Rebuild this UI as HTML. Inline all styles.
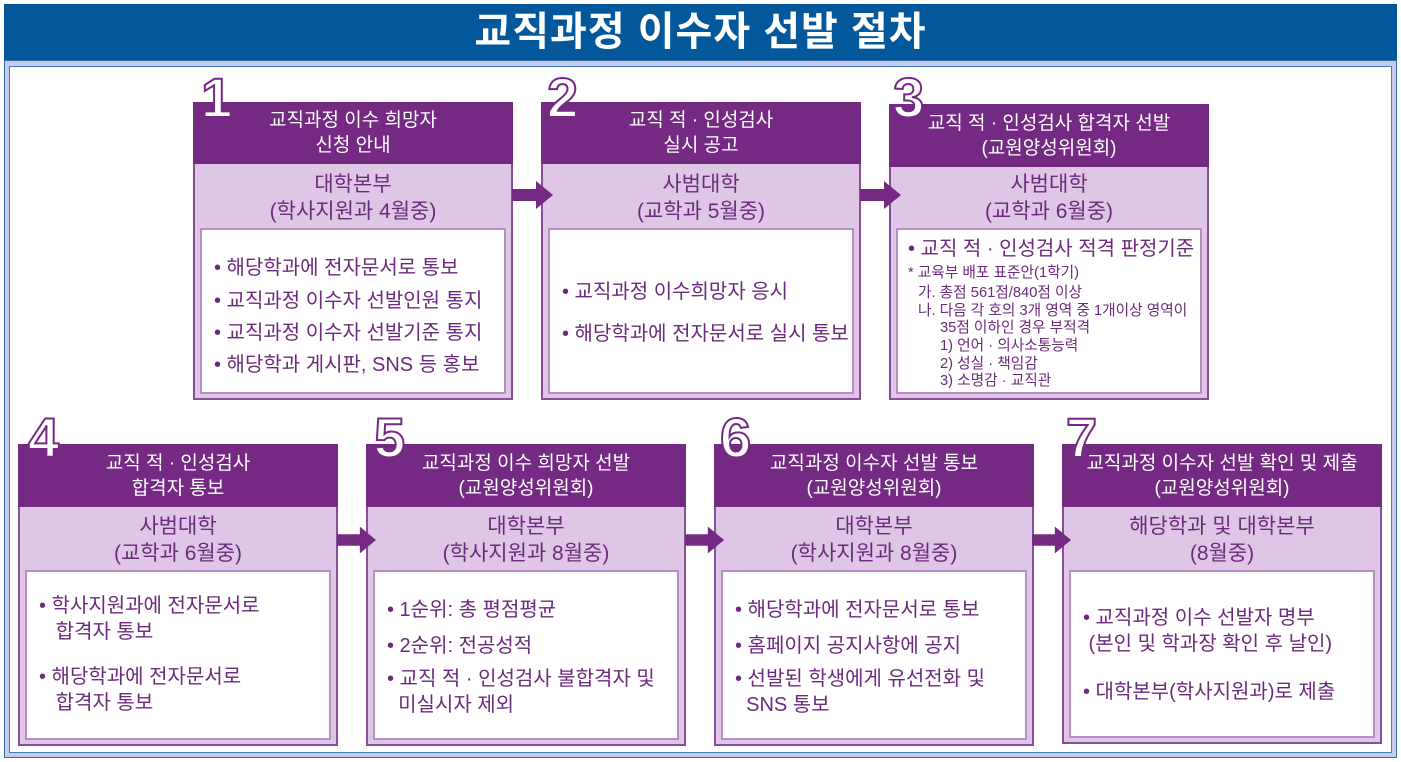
<!DOCTYPE html>
<html><head><meta charset="utf-8"><style>
*{margin:0;padding:0;box-sizing:border-box}
body{width:1401px;height:762px;background:#fff;position:relative;overflow:hidden;font-family:"Liberation Sans","Noto Sans CJK KR",sans-serif;color:#6b2a7c}
.title{position:absolute;left:4px;top:4px;width:1393px;height:57px;background:#03579b;color:#fff;font-size:40px;font-weight:bold;text-align:center;line-height:57px;letter-spacing:1px}
.frame{position:absolute;left:4px;top:60px;width:1393px;height:698px;background:#c9c9e8;border:1px solid #2f6fae}
.inner{position:absolute;left:9px;top:66px;width:1383px;height:687px;background:#fff;border:1px solid #3d7dbd}
.box{position:absolute;width:320px;background:#dfc6e6;border:2px solid #8a4e98}
.hd{position:absolute;left:-2px;top:-2px;right:-2px;background:#742a83;color:#fff;font-size:19px;text-align:center;line-height:25px;display:flex;flex-direction:column;justify-content:center;white-space:nowrap}
.sub{position:absolute;left:0;right:0;text-align:center;font-size:21px;line-height:27px;color:#6b2a7c;white-space:nowrap}
.wb{position:absolute;left:5px;right:5px;bottom:4px;background:#fff;border:2px solid #b690c2}
.wb p{font-size:20px;position:absolute;left:12px;white-space:nowrap}
.num{position:absolute;font-size:56px;font-weight:bold;color:#fff;-webkit-text-stroke:2px #742a83;font-family:"Liberation Sans",sans-serif;line-height:56px}
.arr{position:absolute;width:42px;height:30px}
.sm p{font-size:14.7px;line-height:18px}
</style></head><body>
<div class="title">교직과정 이수자 선발 절차</div>
<div class="frame"></div>
<div class="inner"></div>

<!-- Box 1 -->
<div class="box" style="left:193px;top:102px;height:298px">
 <div class="hd" style="height:62px">교직과정 이수 희망자<br>신청 안내</div>
 <div class="sub" style="top:67px">대학본부<br>(학사지원과 4월중)</div>
 <div class="wb" style="top:124px">
  <p style="top:21px">• 해당학과에 전자문서로 통보</p>
  <p style="top:54px">• 교직과정 이수자 선발인원 통지</p>
  <p style="top:86px">• 교직과정 이수자 선발기준 통지</p>
  <p style="top:118px">• 해당학과 게시판, SNS 등 홍보</p>
 </div>
</div>
<div class="num" style="left:201px;top:70px">1</div>

<!-- Box 2 -->
<div class="box" style="left:541px;top:102px;height:298px">
 <div class="hd" style="height:62px">교직 적 · 인성검사<br>실시 공고</div>
 <div class="sub" style="top:67px">사범대학<br>(교학과 5월중)</div>
 <div class="wb" style="top:124px">
  <p style="top:45px">• 교직과정 이수희망자 응시</p>
  <p style="top:87px">• 해당학과에 전자문서로 실시 통보</p>
 </div>
</div>
<div class="num" style="left:547px;top:70px">2</div>

<!-- Box 3 -->
<div class="box" style="left:889px;top:104px;height:296px">
 <div class="hd" style="height:63px">교직 적 · 인성검사 합격자 선발<br>(교원양성위원회)</div>
 <div class="sub" style="top:65px">사범대학<br>(교학과 6월중)</div>
 <div class="wb sm" style="top:122px">
  <p style="top:6px;font-size:20px;line-height:26px;left:10px">• 교직 적 · 인성검사 적격 판정기준</p>
  <p style="top:34px;left:10px">* 교육부 배포 표준안(1학기)</p>
  <p style="top:54px;left:20px">가. 총점 561점/840점 이상</p>
  <p style="top:72px;left:20px">나. 다음 각 호의 3개 영역 중 1개이상 영역이</p>
  <p style="top:89px;left:42px">35점 이하인 경우 부적격</p>
  <p style="top:107px;left:42px">1) 언어 · 의사소통능력</p>
  <p style="top:125px;left:42px">2) 성실 · 책임감</p>
  <p style="top:142px;left:42px">3) 소명감 · 교직관</p>
 </div>
</div>
<div class="num" style="left:893px;top:70px">3</div>

<!-- Box 4 -->
<div class="box" style="left:18px;top:444px;height:302px">
 <div class="hd" style="height:63px">교직 적 · 인성검사<br>합격자 통보</div>
 <div class="sub" style="top:67px">사범대학<br>(교학과 6월중)</div>
 <div class="wb" style="top:124px">
  <p style="top:21px;line-height:26px">• 학사지원과에 전자문서로<br>&nbsp;&nbsp;&nbsp;합격자 통보</p>
  <p style="top:92px;line-height:26px">• 해당학과에 전자문서로<br>&nbsp;&nbsp;&nbsp;합격자 통보</p>
 </div>
</div>
<div class="num" style="left:28px;top:410px">4</div>

<!-- Box 5 -->
<div class="box" style="left:366px;top:444px;height:302px">
 <div class="hd" style="height:63px">교직과정 이수 희망자 선발<br>(교원양성위원회)</div>
 <div class="sub" style="top:67px">대학본부<br>(학사지원과 8월중)</div>
 <div class="wb" style="top:124px">
  <p style="top:21px">• 1순위: 총 평점평균</p>
  <p style="top:57px">• 2순위: 전공성적</p>
  <p style="top:94px;line-height:26px">• 교직 적 · 인성검사 불합격자 및<br>&nbsp;&nbsp;미실시자 제외</p>
 </div>
</div>
<div class="num" style="left:374px;top:410px">5</div>

<!-- Box 6 -->
<div class="box" style="left:714px;top:444px;height:302px">
 <div class="hd" style="height:63px">교직과정 이수자 선발 통보<br>(교원양성위원회)</div>
 <div class="sub" style="top:67px">대학본부<br>(학사지원과 8월중)</div>
 <div class="wb" style="top:124px">
  <p style="top:21px">• 해당학과에 전자문서로 통보</p>
  <p style="top:57px">• 홈페이지 공지사항에 공지</p>
  <p style="top:94px;line-height:26px">• 선발된 학생에게 유선전화 및<br>&nbsp;&nbsp;SNS 통보</p>
 </div>
</div>
<div class="num" style="left:720px;top:410px">6</div>

<!-- Box 7 -->
<div class="box" style="left:1062px;top:444px;height:300px">
 <div class="hd" style="height:63px">교직과정 이수자 선발 확인 및 제출<br>(교원양성위원회)</div>
 <div class="sub" style="top:67px">해당학과 및 대학본부<br>(8월중)</div>
 <div class="wb" style="top:124px">
  <p style="top:33px;line-height:26px">• 교직과정 이수 선발자 명부<br>&nbsp;(본인 및 학과장 확인 후 날인)</p>
  <p style="top:103px">• 대학본부(학사지원과)로 제출</p>
 </div>
</div>
<div class="num" style="left:1066px;top:410px">7</div>

<!-- arrows -->
<svg class="arr" style="left:512px;top:180px" viewBox="0 0 42 30"><polygon points="0,9 24,9 24,1 41,15 24,29 24,21 0,21" fill="#742a83"/></svg>
<svg class="arr" style="left:860px;top:180px" viewBox="0 0 42 30"><polygon points="0,9 24,9 24,1 41,15 24,29 24,21 0,21" fill="#742a83"/></svg>
<svg class="arr" style="left:337px;top:525px;width:40px" viewBox="0 0 42 30"><polygon points="0,9 24,9 24,1 41,15 24,29 24,21 0,21" fill="#742a83"/></svg>
<svg class="arr" style="left:685px;top:525px;width:40px" viewBox="0 0 42 30"><polygon points="0,9 24,9 24,1 41,15 24,29 24,21 0,21" fill="#742a83"/></svg>
<svg class="arr" style="left:1032px;top:525px;width:40px" viewBox="0 0 42 30"><polygon points="0,9 24,9 24,1 41,15 24,29 24,21 0,21" fill="#742a83"/></svg>
</body></html>
